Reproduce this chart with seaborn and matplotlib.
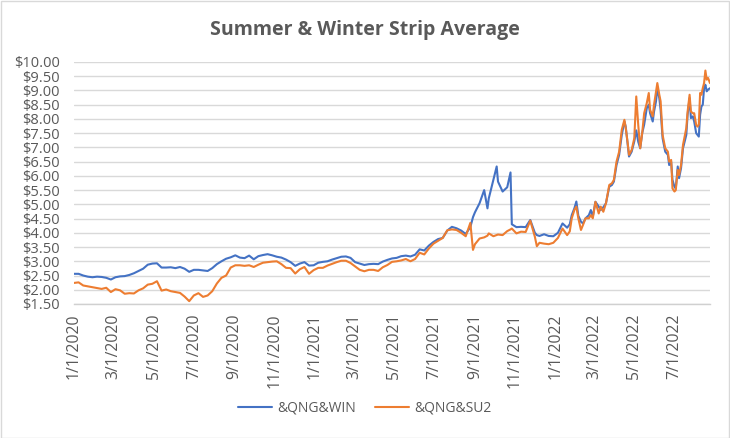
import pandas as pd
import matplotlib
matplotlib.use("Agg")
import matplotlib.pyplot as plt
import matplotlib.dates as mdates
from matplotlib.patches import Rectangle
from matplotlib.ticker import FuncFormatter
import seaborn as sns

# Datos (dias desde 1/1/2020)
dias = [
    0, 7, 14, 21, 28, 35, 42, 49, 56, 63, 70, 77, 84, 91, 98, 105, 112, 119, 126, 133,
    140, 147, 154, 161, 168, 175, 182, 189, 196, 203, 210, 217, 224, 231, 238, 245, 252, 259, 266, 273,
    280, 287, 294, 301, 308, 315, 322, 329, 336, 343, 350, 357, 364, 371, 378, 385, 392, 399, 406, 413,
    420, 427, 434, 441, 448, 455, 462, 469, 476, 483, 490, 497, 504, 511, 518, 525, 532, 539, 546, 553,
    560, 567, 574, 581, 588, 595, 602,
    606, 609, 616, 623, 628, 630, 637, 642, 644, 651, 658, 663, 665, 672, 679, 686, 693, 700, 703, 707,
    714, 721, 728, 735, 742,
    749, 753, 756, 760, 763, 766, 770, 773, 777, 782, 785, 788, 792, 797, 800, 804, 808, 813, 817, 820,
    824, 828, 832, 836, 838, 841, 843, 847, 851, 854, 857, 860, 863, 866, 870, 873, 875, 879, 881, 884,
    886, 889, 891, 894, 898, 902, 904, 907, 909, 912, 914, 917, 919, 922, 925, 930, 932, 935, 937, 940,
    942, 945, 947, 949, 951, 953, 955, 957, 959, 961, 963, 966,
]

qng_win = [
    2.56, 2.56, 2.50, 2.46, 2.44, 2.46, 2.45, 2.42, 2.36, 2.44,
    2.47, 2.48, 2.52, 2.58, 2.66, 2.74, 2.88, 2.92, 2.93, 2.78,
    2.78, 2.79, 2.76, 2.80, 2.74, 2.63, 2.70, 2.70, 2.68, 2.66,
    2.76, 2.90, 3.00, 3.09, 3.14, 3.21, 3.13, 3.11, 3.20, 3.07,
    3.18, 3.22, 3.25, 3.21, 3.16, 3.13, 3.06, 2.97, 2.84, 2.92,
    2.97, 2.85, 2.86, 2.95, 2.98, 3.00, 3.06, 3.11, 3.16, 3.17,
    3.12, 2.97, 2.92, 2.87, 2.90, 2.91, 2.90, 2.99, 3.05, 3.10,
    3.12, 3.18, 3.20, 3.17, 3.23, 3.42, 3.38, 3.55, 3.68, 3.78,
    3.82, 4.08, 4.21, 4.16, 4.08, 3.96, 4.20,
    4.55, 4.72, 5.04, 5.50, 4.86, 5.21, 5.86, 6.33, 5.80, 5.45,
    5.60, 6.12, 4.30, 4.20, 4.21, 4.20, 4.45, 4.00, 3.92, 3.89,
    3.95, 3.89, 3.88, 4.00, 4.33,
    4.18, 4.30, 4.62, 4.86, 5.10, 4.60, 4.39, 4.33, 4.51, 4.62,
    4.80, 4.57, 5.09, 4.92, 4.80, 4.90, 5.04, 5.62, 5.68, 5.80,
    6.38, 6.74, 7.44, 7.91, 7.73, 7.09, 6.68, 6.85, 7.21, 7.60,
    7.20, 6.97, 7.50, 7.80, 8.38, 8.50, 8.20, 7.91, 8.26, 8.62,
    9.08, 8.73, 8.32, 7.32, 6.85, 6.74, 6.38, 6.50, 5.86, 5.62,
    5.56, 6.33, 5.92, 6.27, 6.97, 7.44, 8.15, 8.73, 8.03, 8.09,
    7.91, 7.50, 7.44, 7.38, 8.15, 8.44, 8.50, 9.08, 9.20, 8.97,
    9.03, 9.08,
]

qng_su2 = [
    2.24, 2.26, 2.15, 2.12, 2.09, 2.06, 2.03, 2.07, 1.92, 2.02,
    1.98, 1.86, 1.88, 1.87, 1.98, 2.05, 2.18, 2.21, 2.30, 1.97,
    2.01, 1.95, 1.92, 1.89, 1.76, 1.60, 1.80, 1.88, 1.75, 1.80,
    1.95, 2.22, 2.42, 2.50, 2.78, 2.86, 2.86, 2.84, 2.86, 2.80,
    2.88, 2.95, 2.97, 2.99, 3.00, 2.90, 2.77, 2.76, 2.57, 2.72,
    2.80, 2.56, 2.69, 2.77, 2.77, 2.85, 2.91, 2.97, 3.02, 3.02,
    2.94, 2.82, 2.70, 2.65, 2.70, 2.70, 2.66, 2.79, 2.87, 2.98,
    3.00, 3.03, 3.08, 3.00, 3.08, 3.30, 3.24, 3.45, 3.62, 3.72,
    3.82, 4.09, 4.12, 4.10, 4.00, 3.88, 4.35,
    3.40, 3.60, 3.80, 3.84, 3.90, 3.98, 3.88, 3.92, 3.94, 3.92,
    4.06, 4.12, 4.15, 3.98, 4.04, 4.03, 4.43, 3.86, 3.53, 3.65,
    3.62, 3.60, 3.65, 3.82, 4.15,
    3.92, 4.05, 4.51, 4.80, 4.92, 4.51, 4.10, 4.27, 4.51, 4.51,
    4.62, 4.51, 5.09, 4.68, 4.92, 4.74, 5.04, 5.68, 5.74, 5.86,
    6.50, 6.85, 7.62, 7.97, 7.68, 7.15, 6.74, 6.91, 7.32, 8.79,
    7.79, 6.97, 7.50, 8.20, 8.56, 8.91, 8.32, 8.09, 8.50, 8.97,
    9.26, 8.85, 8.62, 7.44, 6.97, 6.85, 6.50, 6.56, 5.56, 5.45,
    5.50, 6.21, 6.03, 6.38, 7.09, 7.68, 8.26, 8.85, 8.26, 8.20,
    8.20, 7.79, 7.73, 7.80, 8.91, 8.85, 9.08, 9.26, 9.70, 9.38,
    9.44, 9.26,
]

series_names = ["&QNG&WIN", "&QNG&SU2"]
colores = ["#4472C4", "#ED7D31"]
fecha_inicio = "2020-01-01"
titulo = "Summer & Winter Strip Average"

fechas = pd.Timestamp(fecha_inicio) + pd.to_timedelta(dias, unit="D")
df = pd.concat([
    pd.DataFrame({"fecha": fechas, "valor": qng_win, "serie": series_names[0]}),
    pd.DataFrame({"fecha": fechas, "valor": qng_su2, "serie": series_names[1]}),
])

sns.set_style("white")
plt.rcParams["font.family"] = ["Open Sans", "DejaVu Sans"]
gris = "#595959"

fig = plt.figure(figsize=(7.3, 4.38), dpi=100)
ax = fig.add_axes([74 / 730, 1 - 304 / 438, 636 / 730, 242 / 438])

sns.lineplot(data=df, x="fecha", y="valor", hue="serie", palette=colores,
             estimator=None, linewidth=1.5, ax=ax, legend=False)

ax.set_ylim(1.5, 10.0)
ax.set_yticks([1.5 + 0.5 * i for i in range(18)])
ax.yaxis.set_major_formatter(FuncFormatter(lambda v, p: f"${v:.2f}"))
ax.set_xlim(fechas[0], fechas[-1])
ax.xaxis.set_major_locator(mdates.MonthLocator(bymonth=[1, 3, 5, 7, 9, 11]))
ax.xaxis.set_major_formatter(FuncFormatter(
    lambda v, p: f"{mdates.num2date(v).month}/1/{mdates.num2date(v).year}"))

ax.grid(axis="y", color="#D9D9D9", linewidth=1.0)
ax.grid(axis="x", visible=False)
ax.set_axisbelow(True)
for lado in ["left", "right", "top"]:
    ax.spines[lado].set_visible(False)
ax.spines["bottom"].set_color("#D0D0D0")
ax.spines["bottom"].set_linewidth(1.0)

ax.tick_params(axis="y", length=0, pad=10, labelsize=10.5, labelcolor=gris)
ax.tick_params(axis="x", length=0, pad=7, labelsize=11.3, labelcolor=gris)
for lbl in ax.get_xticklabels():
    lbl.set_rotation(90)
    lbl.set_va("top")
    lbl.set_ha("center")
ax.set_xlabel("")
ax.set_ylabel("")

fig.text(0.5, 1 - 30 / 438, titulo, ha="center", va="center",
         fontsize=14, fontweight="bold", color=gris)

handles = [plt.Line2D([], [], color=c, linewidth=1.5) for c in colores]
fig.legend(handles, series_names, loc="center", bbox_to_anchor=(0.5, 1 - 408 / 438),
           ncol=2, frameon=False, fontsize=10, labelcolor=gris,
           handlelength=2.4, handletextpad=0.4, columnspacing=1.4)

fig.patches.append(Rectangle((0.001, 0.001), 0.997, 0.997, transform=fig.transFigure,
                             fill=False, edgecolor="#D9D9D9", linewidth=1.0))

fig.savefig("out.png", dpi=100, facecolor="white")
